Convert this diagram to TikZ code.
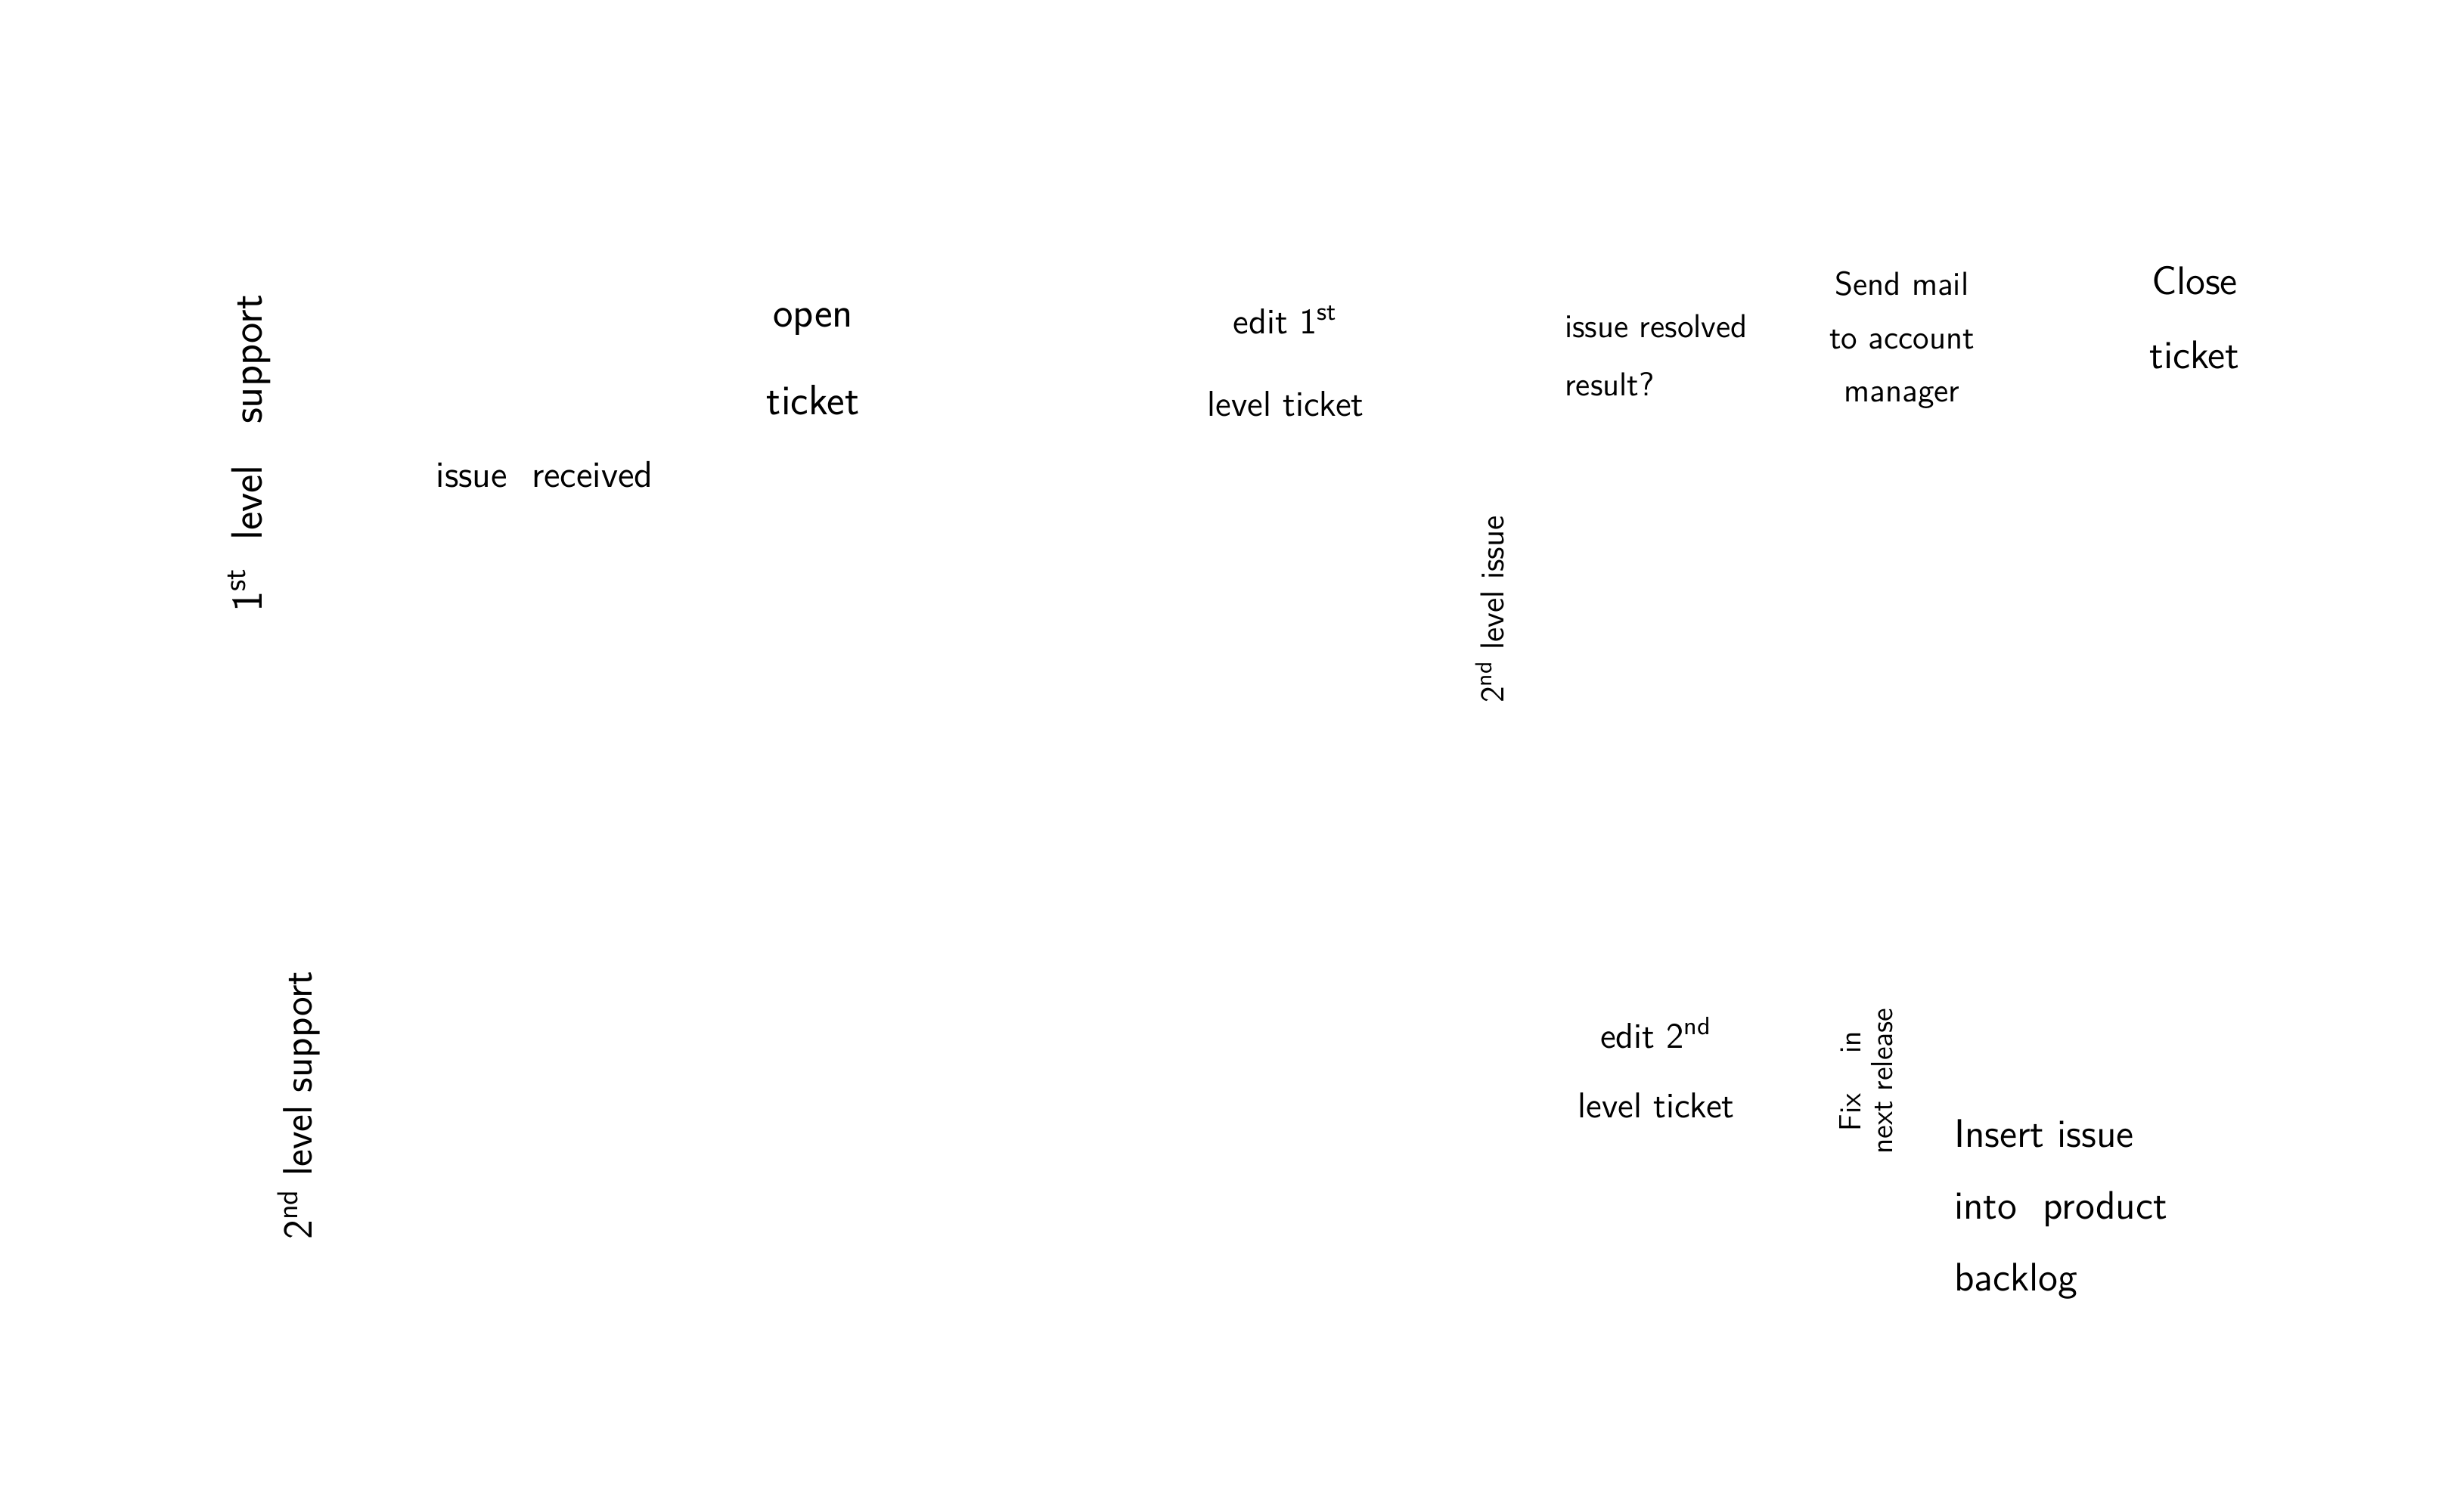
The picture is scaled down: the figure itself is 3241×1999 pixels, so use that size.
\documentclass[tikz,border=0pt]{standalone}
\begin{document}
\begin{tikzpicture}[x=0.01cm,y=-0.01cm,
  hw/.style={font=\sffamily, inner sep=0pt, align=center, text=black},
  hwl/.style={font=\sffamily, inner sep=0pt, align=left, text=black}]
\useasboundingbox[fill=white] (0,0) rectangle (3241,1999);
\node[hw, rotate=90, font=\sffamily\fontsize{16.5}{19}\selectfont] (lane1) at (330,600) {1\textsuperscript{st}\ \ level\ \ \ support};
\node[hw, rotate=90, font=\sffamily\fontsize{15.5}{18}\selectfont] (lane2) at (395,1462) {2\textsuperscript{nd}\ level support};
\node[hw, font=\sffamily\fontsize{14}{16}\selectfont] (start) at (720,628) {issue\ \ received};
\node[hw, font=\sffamily\fontsize{16}{33}\selectfont] (open) at (1075,478) {open\\ticket};
\node[hw, font=\sffamily\fontsize{13.5}{31}\selectfont] (edit1) at (1700,478) {edit 1\textsuperscript{st}\\level ticket};
\node[hwl, font=\sffamily\fontsize{12.5}{22}\selectfont] (gw) at (2190,470) {issue resolved\\result?};
\node[hw, font=\sffamily\fontsize{12.5}{20}\selectfont] (mail) at (2515,450) {Send mail\\to account\\manager};
\node[hw, font=\sffamily\fontsize{15}{28}\selectfont] (close) at (2902,420) {Close\\ticket};
\node[hw, rotate=90, font=\sffamily\fontsize{12.5}{14}\selectfont] (lvl2) at (1970,806) {2\textsuperscript{nd} level issue};
\node[hw, font=\sffamily\fontsize{13.5}{26}\selectfont] (edit2) at (2190,1412) {edit 2\textsuperscript{nd}\\level ticket};
\node[hw, rotate=90, font=\sffamily\fontsize{11.5}{12}\selectfont] (fix) at (2468,1430) {Fix\ \ \ \ in\\next release};
\node[hwl, font=\sffamily\fontsize{15}{27}\selectfont] (backlog) at (2725,1600) {Insert issue\\into\ \ product\\backlog};
\end{tikzpicture}
\end{document}
